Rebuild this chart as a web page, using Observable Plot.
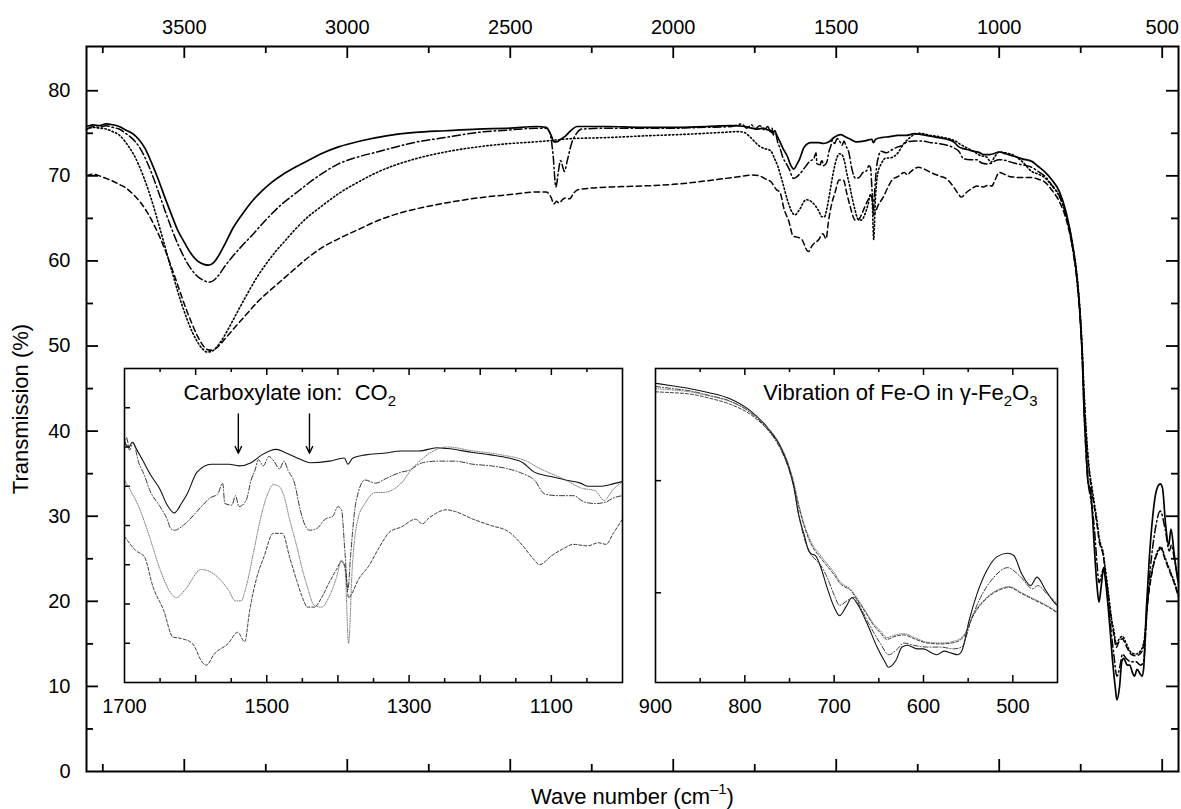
<!DOCTYPE html>
<html><head><meta charset="utf-8">
<script src="https://cdn.jsdelivr.net/npm/d3@7"></script>
<script src="https://cdn.jsdelivr.net/npm/@observablehq/plot@0.6"></script>
<style>
body{margin:0;background:#fff;}
#chart{position:relative;width:1181px;height:809px;overflow:hidden;}
#chart svg{position:absolute;}
</style></head><body><div id="chart"></div>
<script>
// ---------- DATA (wave number in cm^-1, transmission in %) ----------
const solidWn = [3800,3780,3760,3740,3720,3700,3680,3660,3640,3620,3600,3580,3560,3540,3520,3500,3480,3460,3440,3425,3410,3395,3375,3350,3320,3290,3260,3230,3200,3160,3120,3080,3027,2960,2880,2791,2700,2600,2500,2420,2390,2375,2366,2358,2345,2330,2312,2295,2200,2100,2000,1900,1820,1780,1760,1740,1725,1710,1700,1694,1689,1683,1675,1663,1650,1640,1630,1620,1612,1598,1578,1553,1539,1522,1507,1487,1472,1452,1439,1412,1391,1386,1379,1361,1336,1311,1286,1261,1246,1210,1185,1160,1140,1124,1110,1099,1080,1059,1049,1030,1018,1000,980,955,930,900,880,861,840,816,794,775,760,751,745,740,736,733,730,726,721,715,708,700,694,687,680,674,663,652,644,639,631,624,618,607,600,590,585,577,568,562,557,549,540,529,518,506,499,490,480,473,463,452,450];
const solidT = [75.8,76.0,75.9,76.1,76.0,75.8,75.4,75.0,74.3,73.2,71.5,69.6,67.5,65.5,63.6,62.2,60.9,60.0,59.6,59.5,59.8,60.6,62.0,63.9,65.6,67.1,68.3,69.3,70.1,71.0,71.8,72.6,73.4,74.1,74.7,75.1,75.3,75.5,75.6,75.8,75.7,74.8,74.0,74.0,74.3,74.7,75.4,75.8,75.8,75.7,75.7,75.8,75.9,75.8,75.6,75.5,75.6,75.4,75.3,75.0,75.3,74.85,74.2,73.2,72.3,71.3,70.8,71.4,72.0,73.4,73.9,73.9,73.8,74.0,74.5,74.85,74.6,74.2,74.0,74.1,74.3,73.9,74.3,74.5,74.6,74.75,74.75,74.95,74.9,74.65,74.5,74.3,74.0,73.4,73.2,73.1,72.9,72.7,72.5,72.5,72.6,72.8,72.6,72.3,72.0,71.7,71.1,70.5,69.6,68.2,65.6,61.9,57.5,53.0,48.5,42.6,39.5,37.5,35.2,33.7,33.3,30.7,26.2,21.8,19.9,21.8,23.9,22.5,18.1,12.9,9.9,8.4,9.9,12.9,13.3,12.5,12.5,11.5,11.2,12.0,11.5,11.2,12.1,18.8,24.8,30.0,33.0,33.8,33.3,29.2,26.6,28.5,25.5,22.5,22.2];

const dashDotWn = [3800,3780,3760,3740,3720,3700,3680,3660,3640,3620,3600,3580,3560,3540,3520,3500,3480,3460,3440,3425,3410,3395,3375,3350,3320,3290,3260,3230,3200,3160,3120,3080,3027,2960,2909,2850,2791,2700,2600,2500,2420,2390,2378,2369,2360,2352,2346,2340,2334,2325,2312,2298,2280,2200,2100,2000,1900,1820,1790,1775,1760,1748,1735,1720,1710,1700,1697,1693,1688,1680,1672,1665,1650,1640,1635,1630,1615,1600,1590,1580,1569,1562,1559,1549,1544,1539,1529,1522,1516,1512,1505,1497,1490,1482,1476,1470,1461,1453,1445,1440,1430,1418,1407,1400,1395,1390,1386,1382,1375,1362,1347,1332,1311,1301,1281,1261,1236,1210,1185,1160,1140,1124,1109,1090,1069,1054,1038,1023,1013,1000,980,955,930,900,880,861,840,816,794,775,760,751,745,740,734,728,720,714,708,700,694,685,678,670,663,648,639,629,622,611,596,581,566,557,547,536,521,506,491,478,472,462,450];
const dashDotT = [75.5,75.8,75.7,75.9,75.7,75.5,75.0,74.4,73.5,72.1,70.3,68.2,66.0,63.9,62.0,60.4,59.1,58.2,57.7,57.5,57.7,58.3,59.4,60.6,61.9,63.1,64.4,65.6,66.7,67.9,69.1,70.2,71.4,72.3,72.8,73.4,73.95,74.5,75.1,75.4,75.6,75.6,75.0,72.6,68.7,70.6,71.8,71.2,70.5,71.8,73.8,74.9,75.5,75.6,75.6,75.6,75.7,75.8,76.1,75.6,76.0,75.5,75.9,75.4,75.8,75.0,75.6,74.8,75.3,74.0,73.2,72.3,71.2,70.4,69.8,69.7,70.1,70.8,71.3,71.75,72.0,72.7,71.4,71.3,71.9,71.2,71.6,72.9,73.6,74.2,73.8,74.4,74.1,73.6,74.1,73.5,72.7,71.0,69.9,69.7,69.8,70.4,70.6,71.2,71.0,68.2,65.9,68.2,71.4,72.9,72.7,73.0,73.4,73.5,74.0,74.1,74.1,73.9,73.8,73.6,73.3,72.9,72.0,71.9,71.9,71.5,71.4,71.5,71.75,71.9,71.8,71.5,71.3,71.0,70.5,70.0,69.0,67.7,65.2,61.5,57.0,52.7,48.3,42.8,37.5,34.2,32.2,30.8,28.5,24.5,22.2,23.3,24.0,21.5,18.8,13.6,11.2,12.5,13.8,13.3,12.9,12.9,12.5,12.9,18.8,24.0,28.5,30.6,28.5,25.9,26.6,24.8,22.5];

const dottedWn = [3800,3780,3760,3740,3720,3700,3685,3670,3655,3640,3625,3610,3595,3580,3565,3550,3535,3520,3505,3490,3475,3460,3445,3430,3415,3400,3385,3365,3340,3310,3280,3250,3220,3190,3160,3120,3080,3027,2960,2909,2850,2791,2700,2600,2500,2439,2390,2322,2200,2087,1950,1852,1800,1782,1765,1750,1736,1720,1710,1700,1690,1680,1665,1650,1635,1627,1615,1592,1574,1554,1544,1536,1529,1519,1509,1498,1491,1483,1476,1468,1458,1450,1443,1433,1423,1413,1402,1395,1390,1385,1380,1372,1362,1347,1337,1322,1311,1296,1280,1261,1246,1210,1170,1135,1115,1100,1080,1059,1038,1026,1013,1000,980,955,930,900,880,861,840,816,794,775,760,751,745,740,733,725,716,708,700,693,688,682,676,670,663,656,648,641,633,622,611,596,581,566,555,544,529,514,504,491,477,462,450];
const dottedT = [75.4,75.7,75.6,75.5,75.2,74.8,74.2,73.4,72.5,71.3,69.9,68.3,66.5,64.5,62.5,60.4,58.4,56.4,54.6,53.0,51.6,50.5,49.7,49.3,49.4,49.9,50.7,52.0,53.8,55.9,57.9,59.6,61.1,62.4,63.7,65.2,66.4,67.9,69.4,70.4,71.3,72.0,72.8,73.4,73.8,73.95,74.1,74.35,74.5,74.7,74.9,75.1,75.2,75.1,74.6,74.0,73.5,73.2,73.1,72.9,72.1,71.2,69.3,67.2,65.7,65.4,65.9,67.2,66.9,65.9,65.2,65.2,66.1,68.2,70.4,72.1,72.6,72.5,71.9,70.4,68.7,67.2,66.1,64.9,64.8,65.4,66.7,67.8,67.2,62.5,67.2,70.4,71.4,72.1,72.1,72.3,72.7,73.6,74.3,74.85,75.0,74.75,74.5,74.1,73.6,73.3,72.9,72.4,72.2,71.6,72.3,72.8,72.7,72.4,71.7,70.5,70.2,69.8,68.9,67.6,65.3,62.0,57.8,53.6,49.5,45.0,40.0,36.0,33.5,31.5,29.5,27.4,26.6,25.9,24.3,22.5,20.3,18.1,16.5,15.0,15.5,15.9,15.1,14.0,13.8,14.2,15.5,20.3,24.0,25.9,26.4,25.1,23.7,22.2,20.7];

const dashedWn = [3800,3780,3760,3740,3720,3700,3680,3656,3635,3615,3595,3575,3555,3535,3515,3495,3475,3460,3445,3430,3415,3400,3385,3365,3340,3310,3280,3250,3220,3190,3160,3120,3080,3027,2960,2909,2850,2791,2700,2600,2500,2420,2390,2375,2366,2358,2350,2340,2330,2318,2305,2290,2183,2100,2000,1900,1800,1758,1736,1715,1700,1684,1672,1660,1645,1632,1620,1605,1589,1585,1574,1554,1541,1531,1524,1514,1504,1491,1478,1468,1458,1448,1443,1433,1423,1413,1402,1395,1390,1385,1380,1372,1357,1342,1327,1311,1291,1281,1274,1261,1248,1236,1210,1185,1160,1140,1124,1117,1099,1084,1069,1049,1034,1023,1013,1000,980,966,930,900,880,861,840,816,794,775,760,751,745,740,733,725,716,708,700,693,688,682,676,670,663,656,648,641,633,622,611,596,581,566,555,544,529,514,504,491,477,462,450];
const dashedT = [70.0,70.2,70.0,69.7,69.4,69.0,68.6,67.8,66.9,65.8,64.4,62.8,60.9,58.8,56.6,54.4,52.5,51.2,50.2,49.6,49.5,49.8,50.4,51.3,52.4,53.7,55.0,56.1,57.1,58.1,59.1,60.4,61.5,62.6,63.8,64.7,65.5,66.1,66.8,67.4,67.8,68.1,68.1,67.5,66.7,67.0,66.8,67.2,67.4,67.3,68.0,68.4,68.7,68.8,69.0,69.4,69.9,70.1,70.0,69.6,69.3,68.4,68.0,66.1,64.6,62.9,62.8,62.5,61.2,61.1,61.8,62.5,63.2,62.6,64.6,66.7,68.0,69.5,69.5,68.0,66.5,65.2,64.8,64.8,65.4,66.3,67.2,67.7,67.4,65.4,65.7,66.5,67.4,68.6,69.6,69.9,70.4,70.1,70.4,70.8,71.0,70.9,70.4,70.0,69.6,68.7,67.8,67.5,68.1,68.5,68.8,68.7,68.9,68.8,69.5,70.4,70.1,69.9,69.8,69.8,69.6,69.3,68.4,67.0,64.8,61.5,57.5,53.3,49.0,44.5,39.5,35.5,33.0,31.0,29.0,27.0,26.3,25.6,24.0,22.2,20.0,17.8,16.0,14.6,15.2,15.6,14.8,13.8,13.6,13.9,15.2,20.0,23.8,25.7,26.2,24.9,23.5,22.0,20.5];

// axis ticks and texts
const mainXLabels = [3500,3000,2500,2000,1500,1000,500];
const mainXMinor  = [3750,3250,2750,2250,1750,1250,750];
const mainYLabels = [0,10,20,30,40,50,60,70,80];
const mainYMajor  = [10,20,30,40,50,60,70,80];
const mainYMinor  = [5,15,25,35,45,55,65,75];
const yTitle = "Transmission (%)";
const xTitle = "Wave number (cm^{–1})";

const inset1XLabels = [1700,1500,1300,1100];
const inset1XMajor  = [1600,1500,1400,1300,1200,1100];
const inset1XMinor  = [1650,1550,1450,1350,1250,1150,1050];
const inset1YTicks  = [62.5,65,67.5,70,72.5,75,77.5];
const inset1Note    = "Carboxylate ion:  CO_{2}";
const arrowWn   = [1540,1440];
const arrowFrom = [77.1,77.1];
const arrowTo   = [74.6,74.6];

const inset2XLabels = [900,800,700,600,500];
const inset2XMajor  = [800,700,600,500];
const inset2XMinor  = [850,750,650,550];
const inset2YTicks  = [25,50];
const inset2Note    = "Vibration of Fe-O in γ-Fe_{2}O_{3}";

// ---------- BUILD ----------
const FONT = "'Liberation Sans', Arial, Helvetica, sans-serif";
const TICK_FS = 20, TITLE_FS = 22;
const plain = d => String(d);
const rows = (wn, t) => wn.map((w, i) => ({wn: w, t: t[i]}));
const series = [
  {rows: rows(solidWn, solidT),     dash: null,          dashIn: null,        sw: 1.7, swIn: 1.1, color: "#000", colorIn: "#111"},
  {rows: rows(dashDotWn, dashDotT), dash: "8,3,1.5,3",   dashIn: "5,2,1,2",   sw: 1.5, swIn: 0.9, color: "#000", colorIn: "#222"},
  {rows: rows(dottedWn, dottedT),   dash: "1.4,2.4",     dashIn: "1,1.4",     sw: 1.6, swIn: 0.9, color: "#000", colorIn: "#666"},
  {rows: rows(dashedWn, dashedT),   dash: "5.5,3.5",     dashIn: "3,2",       sw: 1.5, swIn: 0.9, color: "#000", colorIn: "#222"}
];

function richText(svg) {
  const NS = "http://www.w3.org/2000/svg";
  svg.querySelectorAll("text").forEach(el => {
    const s = el.textContent;
    if (!/[_^]\{/.test(s)) return;
    const base = parseFloat(getComputedStyle(el).fontSize) || 18;
    while (el.firstChild) el.removeChild(el.firstChild);
    let off = 0, last = 0, m;
    const re = /([_^])\{([^}]*)\}/g;
    const add = (txt, dy, size) => {
      const t = document.createElementNS(NS, "tspan");
      t.textContent = txt;
      if (dy) t.setAttribute("dy", dy);
      if (size) t.setAttribute("font-size", size);
      el.appendChild(t);
    };
    while ((m = re.exec(s))) {
      if (m.index > last) { add(s.slice(last, m.index), -off, null); off = 0; }
      const target = m[1] === "_" ? 0.28 * base : -0.42 * base;
      add(m[2], target - off, 0.68 * base);
      off = target;
      last = re.lastIndex;
    }
    if (last < s.length) add(s.slice(last), -off, null);
  });
}

const chart = document.getElementById("chart");
const W = 1181, H = 809, mL = 86, mR = 3, mT = 46, mB = 38;
const fw = W - mL - mR, fh = H - mT - mB;
const idx = d => d;

const main = Plot.plot({
  width: W, height: H, marginLeft: mL, marginRight: mR, marginTop: mT, marginBottom: mB,
  style: {fontFamily: FONT, fontSize: TICK_FS + "px", background: "white", color: "black", overflow: "visible"},
  x: {domain: [3800, 450]},
  y: {domain: [0, 85.2]},
  marks: [
    Plot.axisX({anchor: "top", ticks: mainXLabels, tickFormat: plain, tickSize: 0, tickPadding: 13, label: null}),
    Plot.axisY({anchor: "left", ticks: mainYLabels, tickFormat: plain, tickSize: 0, tickPadding: 16, label: null}),
    Plot.tickX(mainXLabels, {x: idx, insetBottom: fh - 12, strokeWidth: 1.8}),
    Plot.tickX(mainXMinor,  {x: idx, insetBottom: fh - 7,  strokeWidth: 1.8}),
    Plot.tickX(mainXLabels, {x: idx, insetTop: fh - 12, strokeWidth: 1.8}),
    Plot.tickX(mainXMinor,  {x: idx, insetTop: fh - 7,  strokeWidth: 1.8}),
    Plot.tickY(mainYMajor, {y: idx, insetRight: fw - 12, strokeWidth: 1.8}),
    Plot.tickY(mainYMinor, {y: idx, insetRight: fw - 7,  strokeWidth: 1.8}),
    Plot.tickY(mainYMajor, {y: idx, insetLeft: fw - 12, strokeWidth: 1.8}),
    Plot.tickY(mainYMinor, {y: idx, insetLeft: fw - 7,  strokeWidth: 1.8}),
    ...series.map(s => Plot.line(s.rows, {x: "wn", y: "t", stroke: s.color, strokeWidth: s.sw, strokeDasharray: s.dash, curve: "monotone-x"})),
    Plot.frame({strokeWidth: 2}),
    Plot.text([yTitle], {text: idx, frameAnchor: "left", textAnchor: "middle", lineAnchor: "middle", dx: -66, rotate: -90, fontSize: TITLE_FS}),
    Plot.text([xTitle], {text: idx, frameAnchor: "bottom", textAnchor: "middle", lineAnchor: "middle", dy: 25, fontSize: TITLE_FS})
  ]
});
main.style.left = "0px"; main.style.top = "0px";
chart.appendChild(main);
richText(main);

function inset({left, top, w, h, xDom, yDom, labels, majors, minors, yTicks, note, noteAnchor, noteDx, extra}) {
  const iL = 30, iR = 12, iT = 10, iB = 40;
  const inside = s => s.rows.filter(r => r.wn <= xDom[0] && r.wn >= xDom[1]);
  const p = Plot.plot({
    width: w + iL + iR, height: h + iT + iB, marginLeft: iL, marginRight: iR, marginTop: iT, marginBottom: iB,
    style: {fontFamily: FONT, fontSize: TICK_FS + "px", background: "transparent", color: "black", overflow: "visible"},
    x: {domain: xDom}, y: {domain: yDom, axis: null},
    marks: [
      Plot.axisX({anchor: "bottom", ticks: labels, tickFormat: plain, tickSize: 0, tickPadding: 16, label: null}),
      Plot.tickX(majors, {x: idx, insetTop: h - 7, strokeWidth: 1.5}),
      Plot.tickX(minors, {x: idx, insetTop: h - 4, strokeWidth: 1.5}),
      Plot.tickX(majors, {x: idx, insetBottom: h - 7, strokeWidth: 1.5}),
      Plot.tickX(minors, {x: idx, insetBottom: h - 4, strokeWidth: 1.5}),
      Plot.tickY(yTicks, {y: idx, insetRight: w - 6, strokeWidth: 1.5}),
      ...series.map(s => Plot.line(inside(s), {x: "wn", y: "t", stroke: s.colorIn, strokeWidth: s.swIn, strokeDasharray: s.dashIn, curve: "monotone-x", clip: true})),
      ...(extra || []),
      Plot.frame({strokeWidth: 1.6}),
      Plot.text([note], {text: idx, frameAnchor: noteAnchor, dx: noteDx, dy: 24, lineAnchor: "middle", fontSize: TITLE_FS, textAnchor: noteAnchor === "top-left" ? "start" : "end"})
    ]
  });
  p.style.left = (left - iL) + "px";
  p.style.top = (top - iT) + "px";
  chart.appendChild(p);
  richText(p);
}

const arrows = arrowWn.map((w, i) => ({wn: w, from: arrowFrom[i], to: arrowTo[i]}));
inset({left: 124, top: 368, w: 498, h: 314, xDom: [1700, 1000], yDom: [60, 80],
  labels: inset1XLabels, majors: inset1XMajor, minors: inset1XMinor, yTicks: inset1YTicks,
  note: inset1Note, noteAnchor: "top-left", noteDx: 59,
  extra: [Plot.arrow(arrows, {x: "wn", y1: "from", y2: "to", headLength: 8, headAngle: 50, strokeWidth: 1.4, stroke: "black"})]});
inset({left: 655, top: 368, w: 402, h: 314, xDom: [900, 450], yDom: [5, 75],
  labels: inset2XLabels, majors: inset2XMajor, minors: inset2XMinor, yTicks: inset2YTicks,
  note: inset2Note, noteAnchor: "top-right", noteDx: -20});
</script></body></html>
